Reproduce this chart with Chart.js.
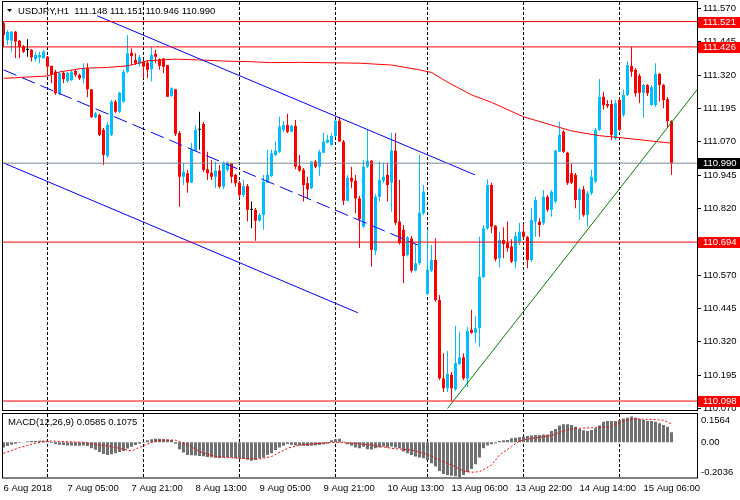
<!DOCTYPE html>
<html>
<head>
<meta charset="utf-8">
<script src="https://cdn.jsdelivr.net/npm/chart.js@4.4.1/dist/chart.umd.min.js"></script>
<style>
  html, body { margin: 0; padding: 0; background: #fff; }
  #wrap { position: relative; width: 740px; height: 500px; }
  #main { position: absolute; left: 0; top: 0; }
  #macd { position: absolute; left: 0; top: 412px; }
</style>
</head>
<body>
<div id="wrap">
  <canvas id="main" width="740" height="412"></canvas>
  <canvas id="macd" width="740" height="88"></canvas>
</div>
<script>
// hourly bars, index 0 = 6 Aug 13:00, last = 15 Aug 13:00
const openP = [
  111.516, 111.452, 111.449, 111.483, 111.449, 111.427, 111.415, 111.415, 111.380, 111.387, 111.383, 111.389,
  111.355, 111.333, 111.250, 111.329, 111.298, 111.302, 111.336, 111.321, 111.308, 111.346, 111.267, 111.162,
  111.171, 111.115, 111.017, 111.096, 111.221, 111.183, 111.221, 111.333, 111.404, 111.377, 111.362, 111.371,
  111.367, 111.342, 111.400, 111.380, 111.383, 111.358, 111.242, 111.267, 111.103, 110.939, 110.952, 110.917,
  111.037, 111.115, 111.137, 110.967, 110.954, 110.939, 110.962, 110.902, 110.965, 110.990, 110.946, 110.917,
  110.871, 110.904, 110.815, 110.815, 110.774, 110.796, 110.917, 110.942, 111.021, 111.033, 111.115, 111.133,
  111.108, 111.130, 110.980, 110.965, 110.915, 110.896, 110.996, 110.977, 111.029, 111.067, 111.058, 111.092,
  111.149, 111.071, 110.849, 110.935, 110.924, 110.858, 110.752, 110.977, 110.999, 110.662, 110.864, 110.924,
  110.946, 110.917, 111.037, 110.771, 110.740, 110.646, 110.708, 110.587, 110.615, 110.802, 110.500, 110.587,
  110.627, 110.477, 110.183, 110.146, 110.196, 110.142, 110.237, 110.262, 110.183, 110.365, 110.354, 110.371,
  110.562, 110.746, 110.908, 110.755, 110.633, 110.702, 110.690, 110.677, 110.621, 110.696, 110.733, 110.713,
  110.627, 110.771, 110.771, 110.765, 110.864, 110.815, 110.846, 111.033, 111.108, 111.029, 110.952, 110.946,
  110.852, 110.892, 110.796, 110.877, 110.921, 111.115, 111.239, 111.212, 111.212, 111.083, 111.227, 111.171,
  111.246, 111.355, 111.340, 111.317, 111.254, 111.283, 111.208, 111.208, 111.325, 111.283, 111.230, 111.148
];
const highP = [
  111.521, 111.490, 111.486, 111.486, 111.452, 111.433, 111.455, 111.418, 111.408, 111.408, 111.415, 111.392,
  111.355, 111.340, 111.333, 111.332, 111.332, 111.340, 111.340, 111.325, 111.365, 111.365, 111.268, 111.182,
  111.175, 111.122, 111.145, 111.227, 111.227, 111.258, 111.340, 111.471, 111.421, 111.402, 111.396, 111.377,
  111.377, 111.427, 111.415, 111.383, 111.383, 111.358, 111.275, 111.268, 111.111, 110.990, 110.965, 111.066,
  111.133, 111.183, 111.145, 111.033, 111.002, 110.996, 110.983, 110.996, 110.996, 110.991, 110.950, 110.923,
  110.927, 110.912, 110.846, 110.822, 110.803, 110.946, 111.040, 111.040, 111.071, 111.164, 111.149, 111.175,
  111.133, 111.152, 111.021, 110.972, 110.939, 110.998, 111.002, 111.040, 111.104, 111.096, 111.103, 111.152,
  111.163, 111.077, 110.946, 110.977, 110.946, 110.867, 111.002, 111.115, 111.002, 110.874, 110.996, 110.992,
  110.991, 111.104, 111.103, 110.927, 110.758, 110.717, 110.717, 110.687, 111.021, 110.908, 110.740, 110.683,
  110.708, 110.496, 110.277, 110.286, 110.207, 110.380, 110.358, 110.277, 110.377, 110.440, 110.417, 110.714,
  110.758, 110.930, 110.917, 110.758, 110.733, 110.750, 110.771, 110.705, 110.733, 110.767, 110.762, 110.717,
  110.821, 110.864, 110.783, 110.889, 110.871, 110.889, 111.040, 111.146, 111.115, 111.033, 110.990, 110.953,
  110.897, 110.904, 110.886, 110.965, 111.122, 111.306, 111.258, 111.227, 111.227, 111.227, 111.235, 111.265,
  111.371, 111.426, 111.347, 111.325, 111.287, 111.287, 111.283, 111.365, 111.327, 111.287, 111.238, 111.151
];
const lowP = [
  111.426, 111.433, 111.408, 111.383, 111.383, 111.403, 111.389, 111.371, 111.371, 111.365, 111.383, 111.317,
  111.290, 111.246, 111.246, 111.290, 111.291, 111.298, 111.314, 111.302, 111.290, 111.237, 111.160, 111.158,
  111.092, 110.983, 111.010, 111.092, 111.178, 111.178, 111.216, 111.328, 111.358, 111.358, 111.352, 111.308,
  111.308, 111.296, 111.365, 111.340, 111.327, 111.238, 111.239, 111.092, 110.827, 110.908, 110.879, 110.916,
  111.036, 111.040, 110.957, 110.927, 110.927, 110.896, 110.896, 110.892, 110.958, 110.915, 110.902, 110.858,
  110.863, 110.771, 110.746, 110.699, 110.771, 110.740, 110.916, 110.938, 111.017, 111.028, 111.107, 111.103,
  111.107, 110.967, 110.958, 110.846, 110.858, 110.893, 110.971, 110.942, 111.028, 111.065, 111.055, 111.088,
  111.070, 110.833, 110.848, 110.896, 110.802, 110.672, 110.747, 110.972, 110.602, 110.646, 110.846, 110.915,
  110.846, 110.808, 110.758, 110.685, 110.540, 110.640, 110.579, 110.585, 110.608, 110.796, 110.496, 110.582,
  110.470, 110.177, 110.132, 110.132, 110.098, 110.136, 110.233, 110.177, 110.150, 110.350, 110.317, 110.302,
  110.560, 110.740, 110.727, 110.621, 110.600, 110.633, 110.658, 110.616, 110.596, 110.683, 110.705, 110.596,
  110.620, 110.714, 110.714, 110.758, 110.808, 110.789, 110.841, 111.032, 111.028, 110.908, 110.912, 110.821,
  110.777, 110.789, 110.752, 110.871, 110.916, 111.111, 111.190, 111.197, 111.077, 111.077, 111.111, 111.163,
  111.242, 111.314, 111.239, 111.215, 111.160, 111.242, 111.205, 111.201, 111.221, 111.196, 111.122, 110.946
];
const closeP = [
  111.471, 111.482, 111.483, 111.446, 111.427, 111.408, 111.415, 111.387, 111.396, 111.396, 111.408, 111.352,
  111.321, 111.252, 111.327, 111.305, 111.329, 111.333, 111.321, 111.308, 111.346, 111.267, 111.162, 111.177,
  111.096, 111.021, 111.133, 111.221, 111.183, 111.254, 111.333, 111.402, 111.392, 111.365, 111.387, 111.352,
  111.340, 111.396, 111.389, 111.355, 111.352, 111.239, 111.271, 111.100, 110.939, 110.958, 110.917, 111.040,
  111.115, 111.115, 110.965, 110.952, 110.939, 110.962, 110.902, 110.990, 110.992, 110.939, 110.915, 110.871,
  110.904, 110.815, 110.815, 110.774, 110.796, 110.921, 110.946, 111.027, 111.037, 111.127, 111.133, 111.108,
  111.130, 110.977, 110.962, 110.908, 110.892, 110.996, 110.977, 111.033, 111.071, 111.077, 111.092, 111.149,
  111.071, 110.849, 110.935, 110.921, 110.858, 110.780, 110.977, 110.999, 110.665, 110.864, 110.927, 110.939,
  110.908, 111.037, 110.767, 110.690, 110.642, 110.712, 110.587, 110.615, 110.804, 110.883, 110.590, 110.627,
  110.477, 110.183, 110.146, 110.200, 110.146, 110.240, 110.262, 110.183, 110.361, 110.354, 110.371, 110.564,
  110.746, 110.908, 110.752, 110.630, 110.702, 110.687, 110.671, 110.621, 110.717, 110.733, 110.714, 110.627,
  110.777, 110.852, 110.758, 110.864, 110.815, 110.883, 111.037, 111.096, 111.033, 110.915, 110.917, 110.852,
  110.892, 110.796, 110.877, 110.939, 111.115, 111.239, 111.208, 111.205, 111.096, 111.215, 111.115, 111.246,
  111.358, 111.333, 111.252, 111.254, 111.283, 111.252, 111.275, 111.325, 111.283, 111.227, 111.148, 110.990
];

// MACD(12,26,9) main values, one per bar
const macdMain = [
  -0.030, -0.022, -0.014, -0.008, -0.003, 0.002, 0.005, 0.007, 0.008, 0.009, 0.009, 0.008,
  -0.004, -0.010, -0.014, -0.016, -0.018, -0.019, -0.020, -0.020, -0.019, -0.022, -0.035, -0.044,
  -0.056, -0.068, -0.074, -0.070, -0.064, -0.056, -0.050, -0.036, -0.026, -0.016, -0.008, -0.002,
  0.012, 0.017, 0.021, 0.020, 0.019, 0.016, 0.014, -0.008, -0.040, -0.060, -0.074, -0.076,
  -0.077, -0.080, -0.081, -0.086, -0.087, -0.090, -0.091, -0.088, -0.087, -0.088, -0.093, -0.095,
  -0.097, -0.101, -0.107, -0.103, -0.093, -0.089, -0.074, -0.064, -0.045, -0.030, -0.020, -0.010,
  -0.015, -0.018, -0.019, -0.020, -0.021, -0.020, -0.018, -0.016, -0.012, -0.008, 0.012, 0.018,
  0.020, 0.004, -0.012, -0.020, -0.030, -0.035, -0.026, -0.040, -0.042, -0.035, -0.030, -0.025,
  -0.030, -0.025, -0.030, -0.035, -0.054, -0.064, -0.074, -0.083, -0.089, -0.093, -0.103, -0.122,
  -0.141, -0.167, -0.184, -0.190, -0.194, -0.198, -0.2036, -0.190, -0.174, -0.155, -0.128, -0.089,
  -0.035, -0.019, -0.012, -0.006, 0.008, 0.012, 0.014, 0.023, 0.027, 0.029, 0.033, 0.037,
  0.039, 0.043, 0.043, 0.046, 0.046, 0.066, 0.078, 0.097, 0.105, 0.105, 0.101, 0.091,
  0.078, 0.070, 0.066, 0.072, 0.081, 0.097, 0.120, 0.124, 0.124, 0.124, 0.130, 0.139,
  0.143, 0.150, 0.143, 0.136, 0.130, 0.124, 0.124, 0.120, 0.110, 0.101, 0.091, 0.0585
];
// signal line, read at some bars
const signalBars = [0, 4, 8, 11, 20, 24, 27, 32, 35, 38, 41, 43, 46, 49, 53, 59, 64, 67, 71, 74, 78, 82, 88, 92,
  97, 102, 106, 109, 112, 115, 117, 119, 122, 124, 127, 129, 132, 137, 140, 143, 148, 152, 155, 158, 163, 165, 167];
const signalVals = [-0.064, -0.031, -0.006, 0.008, 0, -0.016, -0.025, -0.050, -0.019, 0.008, 0.014, 0.012, -0.012,
  -0.054, -0.083, -0.093, -0.097, -0.083, -0.035, -0.016, -0.008, 0, -0.006, -0.016, -0.035, -0.045, -0.070, -0.103,
  -0.132, -0.167, -0.174, -0.171, -0.132, -0.074, -0.025, 0.008, 0.023, 0.039, 0.066, 0.081, 0.085, 0.091, 0.124,
  0.136, 0.132, 0.128, 0.1075];

// red moving average, read at some bars
const maBars = [0, 11, 14, 20, 26, 31, 36, 43, 49, 55, 61, 67, 74, 89, 97, 104, 107, 111, 117, 122, 130, 137, 142, 149, 154, 162, 167];
const maVals = [111.308, 111.317, 111.332, 111.346, 111.349, 111.355, 111.374, 111.380, 111.377, 111.373, 111.371,
  111.367, 111.368, 111.365, 111.358, 111.340, 111.330, 111.294, 111.246, 111.218, 111.164, 111.133, 111.111,
  111.093, 111.086, 111.073, 111.065];

// drawn objects: [startBar, endBar], [startPrice, endPrice]
const chanTopBars = [23.4, 117.9], chanTopVals = [111.543, 110.946];
const chanMidBars = [0, 103.6], chanMidVals = [111.340, 110.683];
const chanLowBars = [0, 88.6], chanLowVals = [110.991, 110.429];
const trendBars = [111, 173.375], trendVals = [110.070, 111.265];
const levelLines = [111.521, 111.426, 110.694, 110.098];
const bidPrice = 110.990;

const priceTicks = [111.570, 111.445, 111.320, 111.195, 111.070, 110.945, 110.820, 110.695, 110.570, 110.445, 110.320, 110.195, 110.070];
const daySeparators = [11, 35, 59, 83, 106, 130, 154];
const labelBars = [0, 16, 32, 48, 64, 80, 96, 112, 128, 144, 160];
const timeLabels = ['6 Aug 2018', '7 Aug 05:00', '7 Aug 21:00', '8 Aug 13:00', '9 Aug 05:00', '9 Aug 21:00',
  '10 Aug 13:00', '13 Aug 06:00', '13 Aug 22:00', '14 Aug 14:00', '15 Aug 06:00'];
const macdTickAt = [0.1256, 0, -0.1767];
const macdTickText = ['0.1564', '0.00', '-0.2036'];

const titleText = 'USDJPY,H1  111.148 111.151 110.946 110.990';
const macdTitle = 'MACD(12,26,9) 0.0585 0.1075';

const xMin = -0.125, xMax = 173.375;
const priceMin = 110.0644, priceMax = 111.5944;
const macdMin = -0.2047, macdMax = 0.1645;

const FONT = '"Liberation Sans", Arial, sans-serif';
Chart.defaults.font.family = FONT;
Chart.defaults.font.size = 9.5;
Chart.defaults.color = '#000';

const bull = '#00bfff', bear = '#ff0000', doji = '#000000';
const candleColor = openP.map((o, i) => closeP[i] > o ? bull : (closeP[i] < o ? bear : doji));

function seg(bars, vals) {
  return bars.map((b, j) => ({ x: b, y: vals[j] }));
}

const frame = {
  id: 'frame',
  afterDraw(chart) {
    const { ctx, chartArea: a } = chart;
    ctx.save();
    ctx.strokeStyle = '#000';
    ctx.lineWidth = 1;
    ctx.strokeRect(a.left - 0.5, a.top - 0.5, a.right - a.left + 1, a.bottom - a.top + 1);
    ctx.restore();
  }
};

const priceBoxes = {
  id: 'priceBoxes',
  afterDraw(chart) {
    const ctx = chart.ctx;
    const y = chart.scales.y;
    ctx.save();
    ctx.font = '9.5px ' + FONT;
    ctx.textBaseline = 'middle';
    const boxes = levelLines.map(v => [v, '#ff0000']).concat([[bidPrice, '#000000']]);
    boxes.forEach(([v, c]) => {
      const py = Math.round(y.getPixelForValue(v));
      ctx.fillStyle = c;
      ctx.fillRect(698, py - 5, 42, 11);
      ctx.fillStyle = '#fff';
      ctx.fillText(v.toFixed(3), 703, py + 0.5);
    });
    // symbol header
    ctx.fillStyle = '#000';
    ctx.beginPath();
    ctx.moveTo(7, 9); ctx.lineTo(12, 9); ctx.lineTo(9.5, 12); ctx.closePath();
    ctx.fill();
    ctx.fillText(titleText, 18, 11);
    ctx.restore();
  }
};

const macdHeader = {
  id: 'macdHeader',
  afterDraw(chart) {
    const ctx = chart.ctx;
    ctx.save();
    ctx.font = '9.5px ' + FONT;
    ctx.fillStyle = '#000';
    ctx.textBaseline = 'middle';
    ctx.fillText(macdTitle, 8, 10.5);
    ctx.restore();
  }
};

const noLegend = { legend: { display: false }, tooltip: { enabled: false } };

function sepAxis(position) {
  return {
    type: 'linear', position: position, min: xMin, max: xMax, offset: false,
    grid: { color: '#000', lineWidth: 1, drawTicks: false, offset: false },
    border: { display: false, dash: [3, 2] },
    ticks: { display: false },
    afterBuildTicks: s => { s.ticks = daySeparators.map(v => ({ value: v })); },
    afterFit: s => { s.height = 0; s.paddingLeft = 0; s.paddingRight = 0; }
  };
}

function lineSet(data, color, extra) {
  return Object.assign({
    type: 'line', data: data, borderColor: color, borderWidth: 1,
    pointRadius: 0, fill: false, tension: 0, order: 1
  }, extra || {});
}

const lineEnds = [xMin, xMax];

new Chart(document.getElementById('main'), {
  type: 'bar',
  data: {
    datasets: [
      ...levelLines.map(v => lineSet(seg(lineEnds, [v, v]), '#ff0000')),
      lineSet(seg(lineEnds, [bidPrice, bidPrice]), '#778899'),
      lineSet(seg(chanTopBars, chanTopVals), '#0000ff', { order: 2 }),
      lineSet(seg(chanMidBars, chanMidVals), '#0000ff', { order: 2, borderDash: [14, 6] }),
      lineSet(seg(chanLowBars, chanLowVals), '#0000ff', { order: 2 }),
      lineSet(seg(trendBars, trendVals), '#008000', { order: 2 }),
      lineSet(seg(maBars, maVals), '#ff0000', { order: 3 }),
      {
        data: openP.map((o, i) => ({ x: i, y: [o, closeP[i]] })),
        backgroundColor: candleColor, barThickness: 3, minBarLength: 1,
        grouped: false, inflateAmount: 0, order: 4
      },
      {
        data: lowP.map((l, i) => ({ x: i, y: [l, highP[i]] })),
        backgroundColor: candleColor, barThickness: 1,
        grouped: false, inflateAmount: 0, order: 5
      }
    ]
  },
  options: {
    responsive: false, animation: false, events: [],
    layout: { padding: { left: 3, top: 2, right: 0, bottom: 2 } },
    plugins: noLegend,
    scales: {
      x: sepAxis('bottom'),
      y: {
        position: 'right', min: priceMin, max: priceMax,
        grid: { drawOnChartArea: false, color: '#000', tickLength: 4 },
        border: { display: true, color: '#000' },
        ticks: { color: '#000', padding: 2, callback: v => v.toFixed(3) },
        afterBuildTicks: s => { s.ticks = priceTicks.map(v => ({ value: v })); },
        afterFit: s => { s.width = 43; s.paddingTop = 0; s.paddingBottom = 0; }
      }
    }
  },
  plugins: [frame, priceBoxes]
});

new Chart(document.getElementById('macd'), {
  type: 'bar',
  data: {
    datasets: [
      lineSet(seg(signalBars, signalVals), '#ff0000', { borderDash: [2, 2], xAxisID: 'x' }),
      {
        data: macdMain.map((v, i) => ({ x: i, y: v })),
        backgroundColor: '#707070', barThickness: 3,
        grouped: false, inflateAmount: 0, order: 2, xAxisID: 'x'
      }
    ]
  },
  options: {
    responsive: false, animation: false, events: [],
    layout: { padding: { left: 3, top: 2, right: 0, bottom: 0 } },
    plugins: noLegend,
    scales: {
      x: {
        type: 'linear', position: 'bottom', min: xMin, max: xMax, offset: false,
        grid: { display: false, drawTicks: false },
        border: { display: false },
        ticks: {
          align: 'start', padding: 5, autoSkip: false, maxRotation: 0, color: '#000',
          callback: (v, i) => timeLabels[i]
        },
        afterBuildTicks: s => { s.ticks = labelBars.map(v => ({ value: v })); },
        afterFit: s => { s.height = 22.5; s.paddingLeft = 0; s.paddingRight = 0; }
      },
      xs: sepAxis('top'),
      y: {
        position: 'right', min: macdMin, max: macdMax,
        grid: { display: false, drawTicks: false },
        border: { display: true, color: '#000' },
        ticks: { color: '#000', padding: 4, callback: (v, i) => macdTickText[i] },
        afterBuildTicks: s => { s.ticks = macdTickAt.map(v => ({ value: v })); },
        afterFit: s => { s.width = 43; s.paddingTop = 0; s.paddingBottom = 0; }
      }
    }
  },
  plugins: [frame, macdHeader]
});
</script>
</body>
</html>
